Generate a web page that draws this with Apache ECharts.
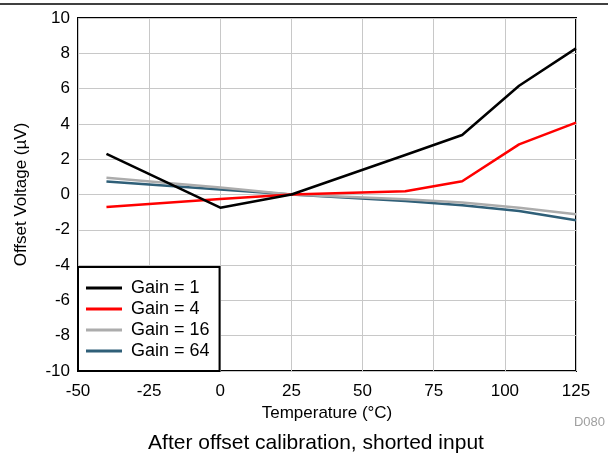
<!DOCTYPE html>
<html>
<head>
<meta charset="utf-8">
<script src="https://cdn.jsdelivr.net/npm/echarts@6/dist/echarts.min.js"></script>
<style>
  body { margin: 0; background: #fff; }
</style>
</head>
<body>
<div id="chart" style="width: 608px; height: 460px;"></div>
<script>
// temperature points (°C)
const temps = [-40, 0, 25, 65, 85, 105, 125];
const gain1 = [2.3, -0.75, 0, 2.24, 3.37, 6.16, 8.28];
const gain4 = [-0.71, -0.25, 0, 0.18, 0.75, 2.84, 4.07];
const gain16 = [0.95, 0.4, 0, -0.27, -0.46, -0.75, -1.12];
const gain64 = [0.73, 0.28, 0, -0.37, -0.61, -0.94, -1.46];
const seriesNames = ['Gain = 1', 'Gain = 4', 'Gain = 16', 'Gain = 64'];
const seriesColors = ['#000000', '#ff0000', '#acacac', '#2f5f78'];

const font = 'Liberation Sans, Arial, sans-serif';
const chart = echarts.init(document.getElementById('chart'));

function pairs(vals) {
  return temps.map((t, i) => [t, vals[i]]);
}

const allData = [gain1, gain4, gain16, gain64];

const option = {
  animation: false,
  backgroundColor: '#fff',
  textStyle: { fontFamily: font },
  title: {
    text: 'After offset calibration, shorted input',
    left: 311,
    textAlign: 'center',
    top: 428,
    textStyle: { fontFamily: font, fontSize: 21, fontWeight: 'normal', color: '#000' }
  },
  grid: {
    left: 78, right: 32, top: 18, bottom: 89,
    show: true, borderColor: '#000', borderWidth: 2
  },
  legend: {
    orient: 'vertical',
    left: 78,
    bottom: 89,
    data: seriesNames,
    icon: 'rect',
    itemWidth: 36,
    itemHeight: 3,
    itemGap: 3,
    padding: [12, 10, 11, 8],
    borderColor: '#000',
    borderWidth: 2,
    backgroundColor: '#fff',
    textStyle: { fontFamily: font, fontSize: 18, color: '#000', padding: [0, 0, 0, 4] }
  },
  xAxis: {
    type: 'value',
    min: -50, max: 125, interval: 25,
    name: 'Temperature (°C)',
    nameLocation: 'middle',
    nameGap: 33,
    nameTextStyle: { fontFamily: font, fontSize: 17, color: '#000' },
    axisLine: { show: false },
    axisTick: { show: false },
    axisLabel: { fontFamily: font, fontSize: 17, color: '#000', margin: 12 },
    splitLine: { lineStyle: { color: '#c8c8c8', width: 1 } }
  },
  yAxis: {
    type: 'value',
    min: -10, max: 10, interval: 2,
    name: 'Offset Voltage (\u00b5V)',
    nameLocation: 'middle',
    nameGap: 48,
    nameTextStyle: { fontFamily: font, fontSize: 17, color: '#000' },
    axisLine: { show: false },
    axisTick: { show: false },
    axisLabel: { fontFamily: font, fontSize: 17, color: '#000', margin: 8 },
    splitLine: { lineStyle: { color: '#c8c8c8', width: 1 } }
  },
  series: seriesNames.map((name, i) => ({
    name: name,
    type: 'line',
    data: pairs(allData[i]),
    showSymbol: false,
    symbol: 'none',
    z: 10 - i,
    lineStyle: { color: seriesColors[i], width: 2.5 },
    itemStyle: { color: seriesColors[i] }
  })),
  graphic: [
    {
      type: 'line',
      shape: { x1: 0, y1: 4, x2: 608, y2: 4 },
      style: { stroke: '#000', lineWidth: 1.5 }
    },
    {
      type: 'text',
      right: 3,
      top: 416,
      style: { text: 'D080', fontFamily: font, fontSize: 13, fill: '#a0a0a0' }
    }
  ]
};

chart.setOption(option);
</script>
</body>
</html>
